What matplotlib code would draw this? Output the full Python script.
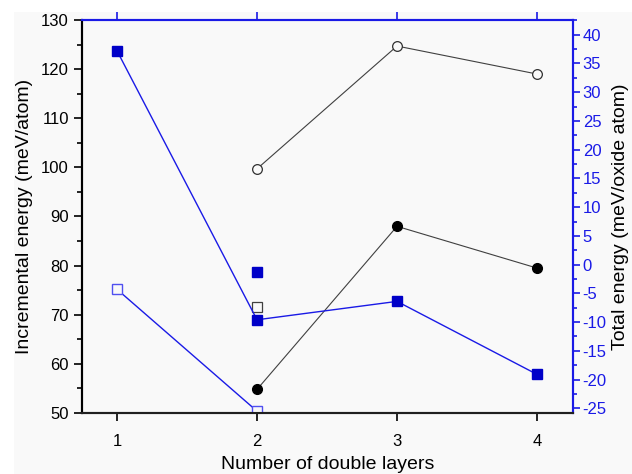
import numpy as np
import matplotlib.pyplot as plt
from matplotlib.patches import Rectangle
from matplotlib.ticker import MultipleLocator

plt.rcParams['font.family'] = ['Liberation Sans', 'DejaVu Sans']
plt.rcParams['axes.unicode_minus'] = False

# incremental energy (left axis, meV/atom)
layers_inc = [2, 3, 4]
inc_open = [99.7, 124.7, 119.0]
inc_filled = [54.8, 88.0, 79.5]
extra_open_sq_x = [2]
extra_open_sq = [71.6]

# total energy (right axis, meV/oxide atom)
layers_tot = [1, 2, 3, 4]
tot_filled = [37.2, -9.6, -6.4, -19.1]
extra_filled_sq_x = [2]
extra_filled_sq = [-1.2]
layers_tot_open = [1, 2]
tot_open = [-4.3, -25.5]

xticks = [1, 2, 3, 4]

blue = '#1a1ae6'
dark_blue = '#0000c8'
light_blue = '#5050f0'

fig = plt.figure(figsize=(6.32, 4.74), dpi=100)
fig.patches.append(Rectangle((14 / 632, 0), 1, (474 - 12) / 474, transform=fig.transFigure,
                             facecolor='#f9f9f9', edgecolor='none', zorder=-10))
ax = fig.add_axes([82 / 632, 61 / 474, 491 / 632, 393 / 474])
ax.set_facecolor('#f9f9f9')
ax2 = ax.twinx()

ax.plot(layers_inc, inc_open, '-', color='#404040', lw=0.8, marker='o', ms=7,
        mfc='#f9f9f9', mec='#303030', mew=0.9)
ax.plot(layers_inc, inc_filled, '-', color='#404040', lw=0.8, marker='o', ms=7,
        mfc='black', mec='black')
ax.plot(extra_open_sq_x, extra_open_sq, 's', ms=6.5, mfc='#f9f9f9', mec='#404040', mew=0.9)

ax2.plot(layers_tot, tot_filled, '-', color=blue, lw=1.0, marker='s', ms=6.5,
         mfc=dark_blue, mec=dark_blue)
ax2.plot(extra_filled_sq_x, extra_filled_sq, 's', ms=6.5, mfc=dark_blue, mec=dark_blue)
ax2.plot(layers_tot_open, tot_open, '-', color=blue, lw=1.0, marker='s', ms=6.5,
         mfc='#f9f9f9', mec=light_blue, mew=1.0)

ax.set_xlim(0.75, 4.257)
ax.set_ylim(50, 130)
ax2.set_ylim(-25.82, 42.56)

ax.set_xticks(xticks)
ax.yaxis.set_major_locator(MultipleLocator(10))
ax.yaxis.set_minor_locator(MultipleLocator(5))
ax2.set_yticks(np.arange(-25, 45, 5))
ax2.yaxis.set_minor_locator(MultipleLocator(2.5))

ax.tick_params(axis='both', direction='out', labelsize=12, width=1.2, length=6, colors='black')
ax.tick_params(axis='x', pad=9)
ax.tick_params(axis='y', which='minor', direction='out', length=3.5, width=1.2)
ax2.tick_params(axis='y', which='major', direction='out', labelsize=12, width=1.2,
                length=5, colors=blue, labelcolor=blue, pad=2)
ax2.tick_params(axis='y', which='minor', direction='out', length=3, width=1.2, colors=blue)

# top ticks in blue, pointing out
sec = ax.secondary_xaxis('top')
sec.set_xticks(xticks)
sec.tick_params(direction='out', length=6, width=1.2, colors=blue, labeltop=False)
sec.spines['top'].set_visible(False)

for a in (ax, ax2):
    a.spines['left'].set_color('black')
    a.spines['bottom'].set_color('#202020')
    a.spines['top'].set_color(blue)
    a.spines['right'].set_color(blue)
    for s in a.spines.values():
        s.set_linewidth(1.5)

ax.set_xlabel('Number of double layers', fontsize=14, labelpad=5)
ax.set_ylabel('Incremental energy (meV/atom)', fontsize=14, labelpad=6)
ax2.set_ylabel('Total energy (meV/oxide atom)', fontsize=14, labelpad=4, color='black')

fig.savefig('out.png', dpi=100, facecolor='white')
